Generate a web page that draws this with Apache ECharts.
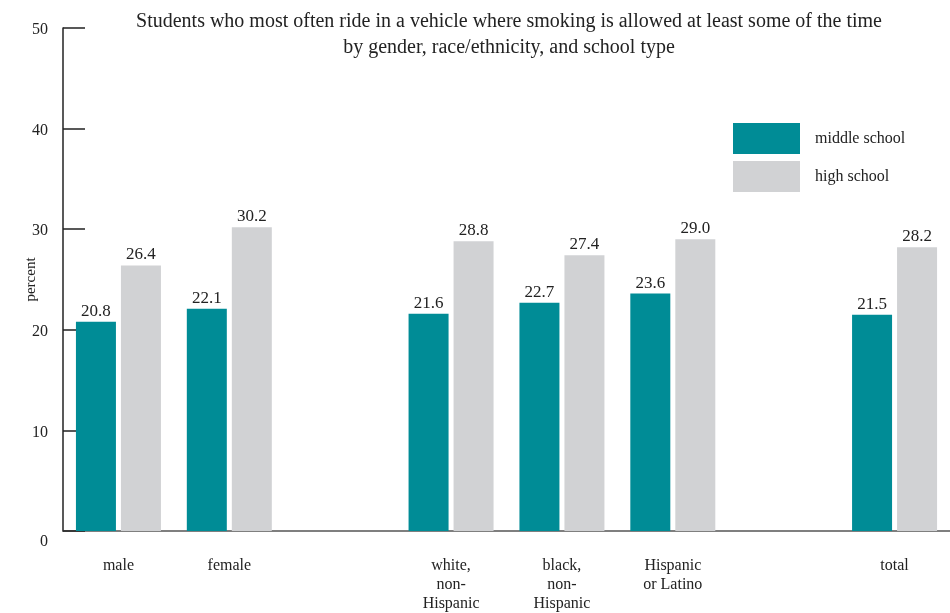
<!DOCTYPE html>
<html><head><meta charset="utf-8">
<script src="https://cdn.jsdelivr.net/npm/echarts@6/dist/echarts.min.js"></script>
<style>html,body{margin:0;padding:0;background:#fff}#c{width:950px;height:613px}</style>
</head><body><div id="c"></div>
<script>
var categories = ['male', 'female', '', 'white,\nnon-\nHispanic', 'black,\nnon-\nHispanic', 'Hispanic\nor Latino', '', 'total'];
var middleSchool = [20.8, 22.1, null, 21.6, 22.7, 23.6, null, 21.5];
var highSchool = [26.4, 30.2, null, 28.8, 27.4, 29.0, null, 28.2];
var yTicks = [0, 10, 20, 30, 40, 50];
var titleText = 'Students who most often ride in a vehicle where smoking is allowed at least some of the time\nby gender, race/ethnicity, and school type';

var FONT = '"Liberation Serif", "DejaVu Serif", serif';
var chart = echarts.init(document.getElementById('c'));
chart.setOption({
  animation: false,
  textStyle: { fontFamily: FONT },
  title: {
    text: titleText, left: 504, top: 4, textAlign: 'center',
    textStyle: { fontFamily: FONT, fontSize: 20, fontWeight: 'normal', color: '#222', lineHeight: 26 }
  },
  legend: {
    orient: 'vertical', left: 733, top: 123, itemWidth: 67, itemHeight: 31, itemGap: 7,
    icon: 'rect', padding: 0,
    textStyle: { fontFamily: FONT, fontSize: 16, color: '#222', padding: [0, 0, 0, 10] },
    data: ['middle school', 'high school']
  },
  grid: { left: 63, right: 0, top: 28, bottom: 82 },
  xAxis: {
    type: 'category', data: categories,
    axisLine: { lineStyle: { color: '#555', width: 1.5 } },
    axisTick: { show: false },
    axisLabel: { margin: 25, fontFamily: FONT, fontSize: 16, color: '#222', lineHeight: 19, interval: 0 }
  },
  yAxis: {
    type: 'value', min: 0, max: 50, interval: 10,
    name: 'percent', nameLocation: 'middle', nameGap: 24, nameRotate: 90, nameMoveOverlap: false,
    nameTextStyle: { fontFamily: FONT, fontSize: 15, color: '#222' },
    axisLine: { show: true, lineStyle: { color: '#222', width: 1.5 } },
    axisTick: { show: true, inside: true, length: 22, lineStyle: { color: '#222', width: 1.5 } },
    splitLine: { show: false },
    axisLabel: { margin: 15, fontFamily: FONT, fontSize: 16, color: '#222',
      formatter: function (v) {
        if (yTicks.indexOf(v) < 0) return '';
        return v === 0 ? '{z|' + v + '}' : '{n|' + v + '}';
      },
      rich: {
        z: { fontFamily: FONT, fontSize: 16, color: '#222', padding: [22, 0, 0, 0] },
        n: { fontFamily: FONT, fontSize: 16, color: '#222', padding: [4, 0, 0, 0] }
      }
    }
  },
  series: [
    { name: 'middle school', type: 'bar', data: middleSchool, barWidth: 40, barGap: '12.5%',
      itemStyle: { color: '#008C96' },
      label: { show: true, position: 'top', distance: 2, fontFamily: FONT, fontSize: 17, color: '#222',
        formatter: function (p) { return p.value.toFixed(1); } } },
    { name: 'high school', type: 'bar', data: highSchool, barWidth: 40,
      itemStyle: { color: '#D1D2D4' },
      label: { show: true, position: 'top', distance: 2, fontFamily: FONT, fontSize: 17, color: '#222',
        formatter: function (p) { return p.value.toFixed(1); } } }
  ]
});
</script></body></html>
